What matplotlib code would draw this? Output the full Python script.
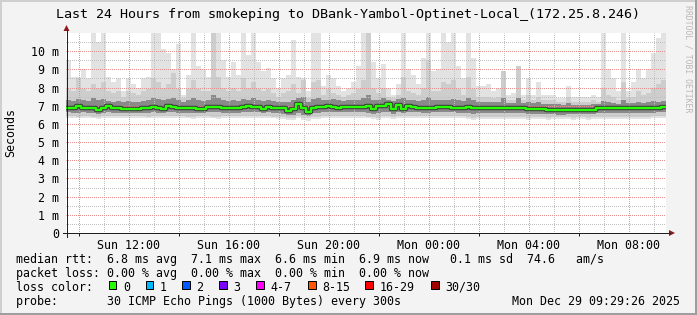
import numpy as np
import matplotlib
matplotlib.use("Agg")
import matplotlib.pyplot as plt
from matplotlib.patches import Rectangle, Polygon
from matplotlib.lines import Line2D

# ---------------- data ----------------
START_HOUR = 9 + 29 / 60 + 26 / 3600      # Sun 09:29:26 (hours since Sun 00:00)
STEP_HOURS = 0.2                          # 12 minute buckets
END_HOUR = START_HOUR + 24

median_ms = [6.88, 6.88, 7.0, 6.9, 6.9, 6.85, 6.76, 6.88, 7.0, 6.85, 6.85, 6.81, 6.81, 6.81, 6.81, 6.88, 6.88, 6.95, 6.85, 6.81,
             7.0, 6.95, 6.88, 6.88, 6.85, 6.9, 6.82, 6.81, 6.92, 6.92, 6.95, 6.88, 6.88, 6.85, 6.85, 6.95, 7.0, 6.92, 6.92, 6.81,
             6.92, 6.88, 6.85, 6.85, 6.7, 6.8, 7.1, 6.85, 6.65, 6.88, 6.92, 6.95, 7.0, 6.92, 6.9, 6.92, 6.92, 6.95, 6.92, 6.95,
             7.0, 6.8, 7.0, 7.0, 7.1, 6.82, 7.05, 6.82, 7.0, 6.92, 6.9, 6.88, 6.88, 6.9, 6.92, 6.92, 6.92, 6.9, 6.88, 6.85,
             6.95, 6.85, 6.88, 6.88, 6.88, 6.88, 6.88, 6.86, 6.85, 6.85, 6.85, 6.85, 6.83, 6.81, 6.8, 6.8, 6.77, 6.77, 6.75, 6.74,
             6.78, 6.78, 6.77, 6.77, 6.77, 6.77, 6.85, 6.88, 6.86, 6.85, 6.86, 6.88, 6.88, 6.87, 6.88, 6.86, 6.88, 6.9, 6.9, 6.92]

smoke_max = [9.5, 8.6, 8.6, 9.0, 8.5, 11.5, 10.5, 11.5, 8.6, 8.3, 8.5, 7.8, 8.5, 8.2, 8.0, 8.5, 8.6, 11.5, 11.5, 10.1,
             9.9, 9.0, 10.4, 7.6, 8.7, 11.5, 9.2, 9.0, 8.6, 11.5, 11.5, 9.5, 8.6, 9.4, 8.7, 11.5, 9.8, 11.5, 9.4, 8.9,
             9.1, 8.5, 8.0, 8.5, 8.7, 10.6, 8.6, 8.5, 7.8, 11.5, 11.5, 8.1, 8.7, 8.5, 8.1, 7.8, 8.0, 8.3, 9.2, 11.5,
             10.8, 9.4, 8.5, 9.3, 8.0, 7.6, 8.2, 11.5, 9.0, 8.7, 8.2, 9.6, 11.5, 8.9, 9.0, 11.5, 10.5, 11.5, 9.2, 8.5,
             11.5, 9.6, 8.1, 8.1, 8.2, 7.8, 8.0, 8.9, 7.6, 7.7, 9.2, 7.6, 8.5, 7.6, 8.3, 7.6, 7.6, 7.6, 7.4, 7.4,
             8.1, 7.5, 7.5, 7.5, 7.5, 7.6, 7.5, 11.5, 9.0, 8.5, 7.8, 11.5, 7.8, 8.3, 9.0, 8.5, 9.0, 9.9, 10.7, 11.5]

smoke_mid_hi = [7.9, 7.8, 8.5, 7.9, 7.8, 8.2, 8.0, 8.3, 7.8, 7.7, 7.8, 7.5, 7.8, 7.7, 7.6, 7.8, 7.9, 8.5, 8.3, 8.0,
                8.2, 8.8, 7.9, 7.4, 7.9, 8.4, 7.9, 7.8, 7.8, 11.5, 8.6, 8.0, 7.8, 8.0, 7.8, 8.5, 8.0, 8.3, 7.9, 7.8,
                7.9, 7.7, 7.5, 7.7, 7.8, 8.2, 7.7, 8.4, 7.4, 8.3, 8.4, 7.6, 7.9, 7.7, 7.6, 7.5, 7.6, 7.7, 7.9, 8.4,
                11.5, 8.0, 7.7, 8.0, 7.5, 7.4, 7.6, 8.6, 7.8, 7.7, 7.6, 8.0, 9.5, 7.8, 7.8, 8.3, 8.2, 8.4, 7.9, 7.6,
                8.6, 7.9, 7.5, 7.5, 7.5, 7.4, 7.5, 8.9, 7.3, 7.3, 9.2, 7.3, 7.6, 7.3, 7.5, 7.3, 7.3, 7.3, 7.2, 7.2,
                7.5, 7.2, 7.2, 7.2, 7.2, 7.3, 7.2, 8.0, 7.6, 7.5, 7.3, 8.3, 7.4, 7.5, 7.8, 7.6, 7.7, 8.0, 8.2, 8.4]

smoke_dark_hi = [7.3, 7.25, 7.35, 7.3, 7.25, 7.4, 7.3, 7.35, 7.25, 7.2, 7.25, 7.2, 7.25, 7.2, 7.2, 7.25, 7.3, 7.4, 7.35, 7.3,
                 7.35, 7.4, 7.3, 7.2, 7.3, 7.4, 7.3, 7.25, 7.3, 7.6, 7.45, 7.3, 7.25, 7.3, 7.25, 7.35, 7.3, 7.4, 7.3, 7.25,
                 7.3, 7.25, 7.2, 7.2, 7.2, 7.3, 7.45, 7.5, 7.2, 7.35, 7.4, 7.3, 7.3, 7.35, 7.3, 7.25, 7.3, 7.3, 7.3, 7.4,
                 7.6, 7.3, 7.3, 7.4, 7.3, 7.25, 7.35, 7.45, 7.3, 7.3, 7.25, 7.3, 7.5, 7.3, 7.3, 7.3, 7.3, 7.35, 7.3, 7.25,
                 7.45, 7.3, 7.2, 7.2, 7.2, 7.2, 7.2, 7.4, 7.15, 7.15, 7.4, 7.15, 7.2, 7.15, 7.2, 7.1, 7.1, 7.1, 7.1, 7.05,
                 7.15, 7.05, 7.05, 7.05, 7.05, 7.1, 7.1, 7.25, 7.2, 7.15, 7.1, 7.3, 7.15, 7.15, 7.2, 7.15, 7.2, 7.25, 7.2, 7.25]

smoke_dark_lo = [6.65, 6.6, 6.6, 6.65, 6.6, 6.6, 6.55, 6.6, 6.65, 6.6, 6.6, 6.6, 6.6, 6.6, 6.6, 6.6, 6.6, 6.65, 6.6, 6.6,
                 6.65, 6.65, 6.6, 6.6, 6.6, 6.6, 6.6, 6.6, 6.65, 6.65, 6.65, 6.6, 6.6, 6.6, 6.6, 6.65, 6.65, 6.65, 6.65, 6.6,
                 6.65, 6.6, 6.6, 6.55, 6.5, 6.5, 6.6, 6.5, 6.45, 6.6, 6.6, 6.65, 6.65, 6.65, 6.65, 6.65, 6.65, 6.65, 6.65, 6.65,
                 6.6, 6.55, 6.6, 6.65, 6.65, 6.55, 6.65, 6.6, 6.65, 6.65, 6.65, 6.6, 6.6, 6.65, 6.65, 6.65, 6.65, 6.65, 6.6, 6.6,
                 6.6, 6.55, 6.6, 6.6, 6.6, 6.6, 6.6, 6.6, 6.6, 6.6, 6.6, 6.6, 6.55, 6.55, 6.55, 6.55, 6.55, 6.55, 6.5, 6.5,
                 6.55, 6.55, 6.55, 6.55, 6.55, 6.55, 6.6, 6.6, 6.6, 6.6, 6.6, 6.6, 6.6, 6.6, 6.6, 6.6, 6.6, 6.6, 6.65, 6.65]

smoke_mid_lo = [6.45, 6.45, 6.4, 6.45, 6.45, 6.4, 6.4, 6.45, 6.45, 6.45, 6.45, 6.45, 6.45, 6.45, 6.45, 6.45, 6.4, 6.45, 6.45, 6.45,
                6.45, 6.45, 6.45, 6.45, 6.4, 6.4, 6.45, 6.45, 6.45, 6.4, 6.4, 6.45, 6.45, 6.45, 6.45, 6.45, 6.45, 6.45, 6.45, 6.45,
                6.45, 6.4, 6.4, 6.4, 6.35, 6.35, 6.45, 6.35, 6.3, 6.4, 6.4, 6.45, 6.45, 6.45, 6.45, 6.45, 6.45, 6.45, 6.45, 6.45,
                6.4, 6.4, 6.35, 6.45, 6.45, 6.4, 6.45, 6.45, 6.45, 6.45, 6.45, 6.45, 6.45, 6.45, 6.45, 6.45, 6.45, 6.45, 6.45, 6.45,
                6.4, 6.35, 6.4, 6.4, 6.4, 6.4, 6.4, 6.4, 6.4, 6.4, 6.4, 6.4, 6.35, 6.4, 6.4, 6.4, 6.35, 6.4, 6.4, 6.4,
                6.4, 6.35, 6.4, 6.4, 6.35, 6.4, 6.4, 6.4, 6.4, 6.4, 6.4, 6.4, 6.4, 6.4, 6.4, 6.4, 6.4, 6.45, 6.45, 6.45]

smoke_min = [6.35, 6.3, 6.3, 6.35, 6.3, 6.3, 6.25, 6.3, 6.3, 6.35, 6.3, 6.35, 6.3, 6.3, 6.35, 6.3, 6.3, 6.3, 6.3, 6.35,
             6.3, 6.3, 6.35, 6.3, 6.3, 6.25, 6.3, 6.3, 6.3, 6.3, 6.25, 6.3, 6.3, 6.3, 6.35, 6.3, 6.3, 6.3, 6.3, 6.3,
             6.3, 6.3, 6.25, 6.25, 6.2, 6.2, 6.3, 6.2, 6.15, 6.25, 6.25, 6.3, 6.3, 6.3, 6.3, 6.35, 6.3, 6.3, 6.3, 6.3,
             6.3, 6.25, 6.2, 6.3, 6.3, 6.25, 6.3, 6.3, 6.3, 6.3, 6.3, 6.3, 6.3, 6.3, 6.3, 6.35, 6.3, 6.3, 6.3, 6.3,
             6.25, 6.2, 6.25, 6.25, 6.25, 6.25, 6.25, 6.25, 6.25, 6.25, 6.25, 6.25, 6.2, 6.25, 6.25, 6.25, 6.2, 6.25, 6.25, 6.25,
             6.25, 6.2, 6.25, 6.25, 6.2, 6.25, 6.25, 6.25, 6.25, 6.25, 6.25, 6.25, 6.25, 6.25, 6.25, 6.25, 6.25, 6.3, 6.3, 6.3]

y_ticks = [0, 1, 2, 3, 4, 5, 6, 7, 8, 9, 10]
y_tick_labels = ["0", "1 m", "2 m", "3 m", "4 m", "5 m", "6 m", "7 m", "8 m", "9 m", "10 m"]
x_label_hours = [12, 16, 20, 24, 28, 32]
x_labels = ["Sun 12:00", "Sun 16:00", "Sun 20:00", "Mon 00:00", "Mon 04:00", "Mon 08:00"]
x_major_grid_hours = [10, 12, 14, 16, 18, 20, 22, 24, 26, 28, 30, 32]
x_minor_grid_hours = [11, 13, 15, 17, 19, 21, 23, 25, 27, 29, 31, 33]
x_tick_mark_hours = [10, 14, 18, 22, 26, 30]

title = "Last 24 Hours from smokeping to DBank-Yambol-Optinet-Local_(172.25.8.246)"
stat_lines = [
    "median rtt:  6.8 ms avg  7.1 ms max  6.6 ms min  6.9 ms now   0.1 ms sd  74.6   am/s",
    "packet loss: 0.00 % avg  0.00 % max  0.00 % min  0.00 % now",
]
loss_labels = ["0", "1", "2", "3", "4-7", "8-15", "16-29", "30/30"]
loss_colors = ["#26ff00", "#00b8ff", "#0059ff", "#7a00ff", "#ff00ff", "#ff5500", "#ff0000", "#a10000"]
probe_text = "probe:       30 ICMP Echo Pings (1000 Bytes) every 300s"
date_text = "Mon Dec 29 09:29:26 2025"

# ---------------- figure ----------------
W, H = 697, 315
MONO = "DejaVu Sans Mono"
plt.rcParams["font.family"] = [MONO]
plt.rcParams["lines.scale_dashes"] = False
fig = plt.figure(figsize=(W / 100, H / 100), dpi=100, facecolor="#f3f3f3")


def fx(x):
    return x / W


def fy(y):
    return 1 - y / H


PX = 0.72  # points per pixel
ax_left, ax_right, ax_top, ax_bottom = 66, 666, 32.5, 233
ax = fig.add_axes([fx(ax_left), fy(ax_bottom), (ax_right - ax_left) / W, (ax_bottom - ax_top) / H])
ax.set_facecolor("white")
ax.set_xlim(START_HOUR, END_HOUR)
ax.set_ylim(0, 11.03)

n = len(median_ms)
edges = START_HOUR + np.arange(n + 1) * STEP_HOURS


def st(a):
    a = np.asarray(a, dtype=float)
    return np.append(a, a[-1])


ax.fill_between(edges, st(smoke_min), st(smoke_max), step="post", color="#e2e2e2", lw=0, zorder=1)
ax.fill_between(edges, st(smoke_mid_lo), st(smoke_mid_hi), step="post", color="#cdcdcd", lw=0, zorder=2)
ax.fill_between(edges, st(smoke_dark_lo), st(smoke_dark_hi), step="post", color="#8a8a8a", lw=0, zorder=3)

# grid (1px dots, drawn over the smoke, as rrdtool does)
grid_kw = dict(lw=PX, ls=(0.5 * PX, (PX, PX)), zorder=4)
for h in x_minor_grid_hours:
    ax.axvline(h, color="#c0c0c0", **grid_kw)
for h in x_major_grid_hours:
    ax.axvline(h, color="#e89090", **grid_kw)
for v in np.arange(0.5, 11, 1.0):
    ax.axhline(v, color="#c0c0c0", **grid_kw)
for v in y_ticks[1:]:
    ax.axhline(v, color="#e89090", **grid_kw)

ax.step(edges, st(median_ms), where="post", color="#3a3a3a", lw=3.2, zorder=5)
ax.step(edges, st(median_ms), where="post", color=loss_colors[0], lw=1.7, zorder=6)

for s in ax.spines.values():
    s.set_visible(False)

ax.set_yticks(y_ticks)
ax.set_yticklabels(y_tick_labels, fontsize=8.4, family=MONO)
ax.set_xticks(x_label_hours)
ax.set_xticklabels(x_labels, fontsize=8.4, family=MONO)
ax.tick_params(axis="y", length=0, pad=4.8)
ax.tick_params(axis="x", length=0, pad=4.2)
ax.set_xticks(x_tick_mark_hours, minor=True)
ax.tick_params(axis="x", which="minor", length=2.2, width=PX, color="#202020", direction="out")

# axis lines and arrows
fig.add_artist(Line2D([fx(62.5), fx(670)], [fy(233), fy(233)], color="#202020", lw=PX))
fig.add_artist(Line2D([fx(66.5), fx(66.5)], [fy(236.5), fy(30)], color="#202020", lw=PX))
fig.add_artist(Polygon([[fx(669), fy(230)], [fx(669), fy(236)], [fx(675), fy(233)]], closed=True,
                       color="#8b1a1a", lw=0))
fig.add_artist(Polygon([[fx(63.5), fy(31)], [fx(69.5), fy(31)], [fx(66.5), fy(25)]], closed=True,
                       color="#8b1a1a", lw=0))

# titles and labels
fig.text(fx(348), fy(18.3), title, ha="center", va="baseline", fontsize=9.6, family=MONO, color="black")
fig.text(fx(11), fy(132.5), "Seconds", rotation=90, ha="center", va="center", fontsize=8.4, family=MONO)
fig.text(fx(688), fy(5), "RRDTOOL / TOBI OETIKER", rotation=270, ha="center", va="top",
         fontsize=5.9, family=MONO, color="#b8b8b8")

fig.text(fx(16), fy(263), stat_lines[0], ha="left", va="baseline", fontsize=8.4, family=MONO)
fig.text(fx(16), fy(277), stat_lines[1], ha="left", va="baseline", fontsize=8.4, family=MONO)
fig.text(fx(16), fy(291), "loss color:", ha="left", va="baseline", fontsize=8.4, family=MONO)
box_x = [108.5, 145.5, 182, 219, 256, 308, 365, 431]
for bx, lab, col in zip(box_x, loss_labels, loss_colors):
    fig.add_artist(Rectangle((fx(bx), fy(288.5)), 7.5 / W, 7.5 / H, facecolor=col, edgecolor="black", lw=PX))
    fig.text(fx(bx + 14.5), fy(291), lab, ha="left", va="baseline", fontsize=8.4, family=MONO)
fig.text(fx(16), fy(305), probe_text, ha="left", va="baseline", fontsize=8.4, family=MONO)
fig.text(fx(680), fy(305), date_text, ha="right", va="baseline", fontsize=8.4, family=MONO)

# 3D frame
fig.add_artist(Rectangle((0, 0), 1, 2 / H, color="#9e9e9e", lw=0))
fig.add_artist(Rectangle((1 - 2 / W, 0), 2 / W, 1, color="#9e9e9e", lw=0))
fig.add_artist(Rectangle((0, 1 - 2 / H), 1 - 2 / W, 2 / H, color="#cfcfcf", lw=0))
fig.add_artist(Rectangle((0, 2 / H), 2 / W, 1 - 2 / H, color="#cfcfcf", lw=0))

fig.savefig("out.png", dpi=100, facecolor=fig.get_facecolor())
